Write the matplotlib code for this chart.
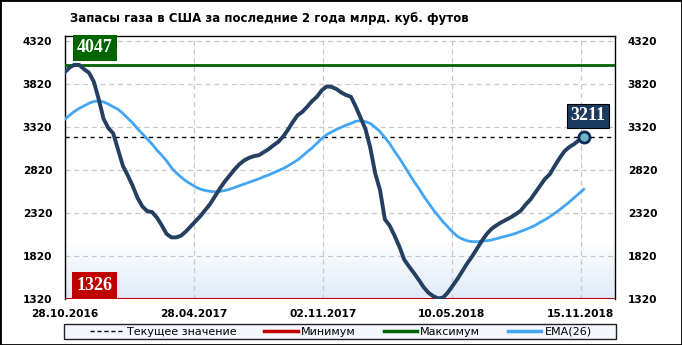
import numpy as np
import matplotlib
matplotlib.use("Agg")
import matplotlib.pyplot as plt
from matplotlib.colors import LinearSegmentedColormap
from matplotlib.patches import Rectangle
from matplotlib.lines import Line2D

# данные: запасы газа (млрд. куб. футов), еженедельно
storage = [3960, 4015, 4047, 4045, 3995, 3955, 3850, 3650, 3420, 3310,
           3250, 3060, 2870, 2760, 2640, 2500, 2400, 2345, 2335, 2270,
           2180, 2080, 2040, 2040, 2060, 2110, 2170, 2230, 2290, 2360,
           2430, 2520, 2610, 2690, 2760, 2830, 2890, 2935, 2965, 2985,
           2995, 3030, 3065, 3110, 3150, 3210, 3290, 3380, 3460, 3500,
           3560, 3625, 3676, 3750, 3795, 3790, 3765, 3725, 3695, 3675,
           3560, 3430, 3300, 3080, 2785, 2590, 2250, 2175, 2060, 1930,
           1780, 1700, 1625, 1545, 1460, 1395, 1355, 1330, 1340, 1400,
           1480, 1560, 1650, 1740, 1820, 1910, 2000, 2080, 2140, 2180,
           2215, 2245, 2275, 2310, 2350, 2420, 2480, 2560, 2640, 2720,
           2775, 2870, 2960, 3040, 3090, 3125, 3170, 3211]

ema26 = [3413, 3460, 3505, 3540, 3570, 3600, 3620, 3628, 3615, 3590,
         3558, 3530, 3480, 3425, 3370, 3305, 3245, 3185, 3125, 3055,
         2995, 2930, 2850, 2790, 2740, 2695, 2660, 2625, 2600, 2585,
         2575, 2570, 2575, 2585, 2600, 2620, 2640, 2660, 2680, 2700,
         2720, 2745, 2765, 2790, 2815, 2840, 2870, 2905, 2940, 2985,
         3035, 3080, 3135, 3190, 3235, 3265, 3295, 3320, 3345, 3365,
         3390, 3397, 3385, 3365, 3320, 3269, 3200, 3130, 3040, 2960,
         2870, 2780, 2690, 2610, 2520, 2440, 2360, 2290, 2220, 2160,
         2100, 2050, 2020, 2000, 1990, 1990, 1995, 2001, 2010, 2025,
         2040, 2055, 2070, 2087, 2110, 2130, 2155, 2180, 2215, 2245,
         2280, 2320, 2360, 2405, 2450, 2500, 2550, 2599]

date_labels = ["28.10.2016", "28.04.2017", "02.11.2017", "10.05.2018", "15.11.2018"]
y_ticks = [1320, 1820, 2320, 2820, 3320, 3820, 4320]
max_val = 4047
min_val = 1326
cur_val = 3211

NAVY = "#243f60"
BLUE = "#42a5f5"
GREEN = "#006400"
RED = "#c00000"

fig = plt.figure(figsize=(6.82, 3.45), dpi=100)
ax = fig.add_axes([0.0949, 0.1325, 0.8073, 0.7632])

x = np.arange(len(storage))

# градиент внизу графика (снизу голубой, вверх - белый)
cmap = LinearSegmentedColormap.from_list("g", ["#ffffff", "#dfeaf8"])
grad = np.linspace(0, 1, 100).reshape(-1, 1)
ax.imshow(grad, cmap=cmap, extent=[0, 1, 0, 0.22], transform=ax.transAxes,
          aspect="auto", origin="upper", zorder=0)
ax.set_autoscale_on(False)

ax.set_xlim(0, 113.5)
ax.set_ylim(1320, 4382)

ax.axhline(max_val, color=GREEN, lw=2, zorder=3)
ax.axhline(min_val, color=RED, lw=2.2, zorder=3)
ax.axhline(cur_val, color="black", lw=1, ls=(0, (3, 3)), zorder=3)

ax.plot(x, ema26, color=BLUE, lw=2, zorder=4)
ax.plot(x, storage, color=NAVY, lw=2.8, zorder=5, solid_joinstyle="round")
ax.plot(x[-1], storage[-1], "o", ms=8, mfc="#6fb7c9", mec="#102a55", mew=2, zorder=6)

xt = np.linspace(0, 106.4, len(date_labels))
ax.set_xticks(xt)
ax.set_xticklabels(date_labels)
ax.set_yticks(y_ticks)
ax.set_yticklabels([str(v) for v in y_ticks])
ax.grid(True, color="#c8c8c8", ls=(0, (4, 3)), lw=0.9)
ax.set_axisbelow(True)
ax.tick_params(axis="both", length=0, labelsize=7.7)
ax.tick_params(axis="y", pad=9, labelright=True)
ax.tick_params(axis="x", pad=7)
for lab in ax.get_xticklabels() + ax.get_yticklabels():
    lab.set_fontweight("bold")
for t in ax.yaxis.get_major_ticks():
    t.label2.set_fontweight("bold")
    t.label2.set_fontsize(7.7)
for s in ax.spines.values():
    s.set_color("black")
    s.set_linewidth(1)
ax.spines["bottom"].set_visible(False)

# подписи значений
box = dict(boxstyle="square,pad=0.25", lw=0)
ax.text(0.055, 0.956, str(max_val), transform=ax.transAxes, ha="center", va="center",
        color="white", fontsize=13, fontweight="bold", family="Liberation Serif",
        bbox=dict(box, fc=GREEN), zorder=7)
ax.text(0.054, 0.054, str(min_val), transform=ax.transAxes, ha="center", va="center",
        color="white", fontsize=13, fontweight="bold", family="Liberation Serif",
        bbox=dict(box, fc=RED), zorder=7)
ax.annotate(str(cur_val), (x[-1], storage[-1]), xytext=(3, 15), textcoords="offset points",
            ha="center", va="center", color="white", fontsize=13, fontweight="bold",
            family="Liberation Serif",
            bbox=dict(boxstyle="square,pad=0.2", fc="#1c3a5e", ec="black", lw=0.8), zorder=7)

fig.text(0.103, 0.946, "Запасы газа в США за последние 2 года млрд. куб. футов",
         fontsize=8.5, fontweight="bold", va="center", ha="left")

# легенда
fig.add_artist(Rectangle((0.0938, 0.017), 0.8095, 0.044, transform=fig.transFigure,
                         facecolor="#f3f7fd", lw=1, edgecolor="#222222", zorder=1))
handles = [Line2D([], [], color="black", lw=1, ls=(0, (3, 2))),
           Line2D([], [], color=RED, lw=2.5),
           Line2D([], [], color=GREEN, lw=2.5),
           Line2D([], [], color=BLUE, lw=2.5)]
names = ["Текущее значение", "Минимум", "Максимум", "EMA(26)"]
fig.legend(handles, names, loc="center", ncol=4, bbox_to_anchor=(0.5, 0.039),
           fontsize=8, frameon=False, handlelength=3, columnspacing=2.5,
           handletextpad=0.3)

fig.add_artist(Rectangle((0, 0), 1, 1, transform=fig.transFigure, fill=False,
                         lw=2, edgecolor="black"))

fig.savefig("out.png", dpi=100)
